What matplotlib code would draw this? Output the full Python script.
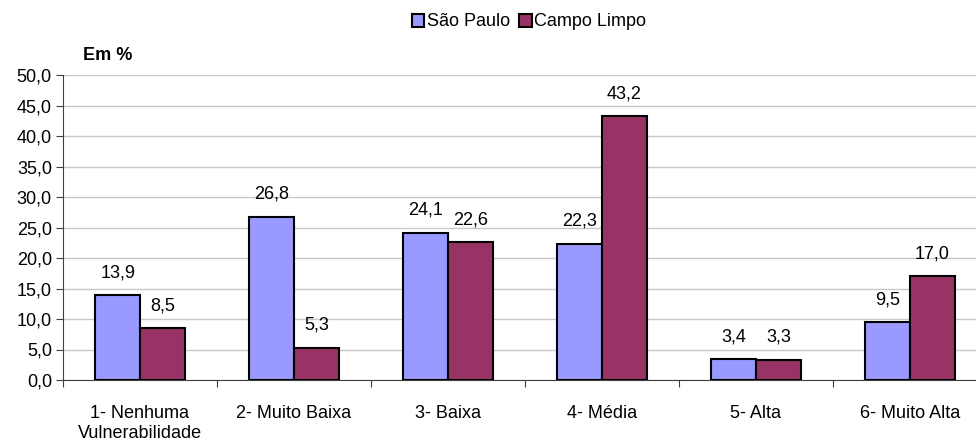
import numpy as np
import matplotlib.pyplot as plt
from matplotlib.patches import Patch

plt.rcParams['font.family'] = ['Liberation Sans', 'DejaVu Sans']

# Data
categorias = ['1- Nenhuma\nVulnerabilidade', '2- Muito Baixa', '3- Baixa',
              '4- Média', '5- Alta', '6- Muito Alta']
sao_paulo = [13.9, 26.8, 24.1, 22.3, 3.4, 9.5]
campo_limpo = [8.5, 5.3, 22.6, 43.2, 3.3, 17.0]
series = ['São Paulo', 'Campo Limpo']
cores = ['#9999FF', '#993366']

def fmt(v):
    return f"{v:.1f}".replace('.', ',')

fs = 13

fig = plt.figure(figsize=(9.76, 4.41), dpi=100)
ax = fig.add_axes([63 / 976, 1 - 380 / 441, 924 / 976, 305 / 441])

x = np.arange(len(categorias))
w = 0.29
for i, (vals, cor) in enumerate(zip([sao_paulo, campo_limpo], cores)):
    pos = x + (i - 0.5) * w
    ax.bar(pos, vals, width=w, color=cor, edgecolor='black', linewidth=1.5, zorder=3)
    for p, v in zip(pos, vals):
        ax.text(p, v + 2.3, fmt(v), ha='center', va='bottom', fontsize=fs)

ax.set_xlim(-0.5, len(categorias) - 0.5)
ax.set_ylim(0, 50)
ax.set_yticks(np.arange(0, 50.1, 5))
ax.set_yticklabels([fmt(v) for v in np.arange(0, 50.1, 5)], fontsize=fs)
ax.yaxis.grid(True, color='#c8c8c8', linewidth=1, zorder=0)

ax.set_xticks(np.arange(-0.5, len(categorias), 1))
ax.set_xticklabels([])
ax.set_xticks(x, minor=True)
ax.set_xticklabels(categorias, minor=True, fontsize=fs)
ax.tick_params(axis='x', which='minor', length=0, pad=18)
ax.tick_params(axis='x', which='major', length=5, color='#404040')
ax.tick_params(axis='y', length=5, color='#404040', pad=3)

for s in ['top', 'right']:
    ax.spines[s].set_visible(False)
ax.spines['left'].set_color('#404040')
ax.spines['bottom'].set_color('#404040')

fig.text(83 / 976, 1 - 56 / 441, 'Em %', fontsize=fs, fontweight='bold', va='center')

handles = [Patch(facecolor=c, edgecolor='black', linewidth=1.5) for c in cores]
fig.legend(handles, series, loc='center', bbox_to_anchor=(529 / 976, 1 - 22 / 441),
           ncol=2, frameon=False, fontsize=fs, handlelength=0.7, handleheight=0.7,
           handletextpad=0.15, columnspacing=0.5)

fig.savefig('out.png', dpi=100)
